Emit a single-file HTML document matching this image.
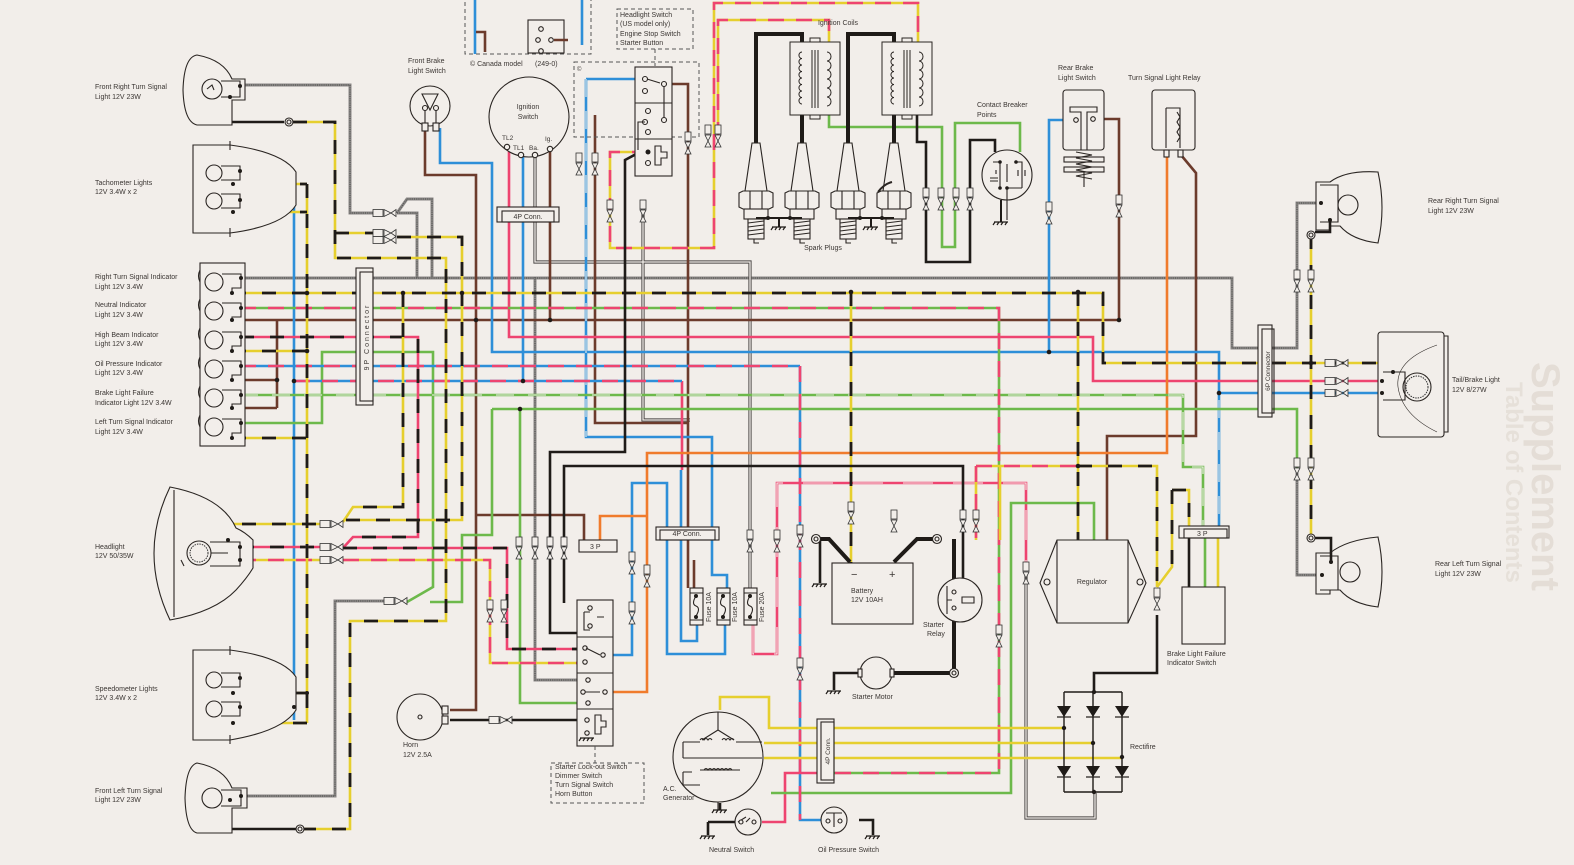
<!DOCTYPE html>
<html><head><meta charset="utf-8">
<style>
html,body{margin:0;padding:0;background:#f2eeea;}
svg{display:block}
text{font-family:"Liberation Sans",sans-serif;font-size:7px;fill:#3b3633}
.w{fill:none;stroke-width:2.6;stroke-linejoin:miter}
.Y{stroke:#e6cf2e}.K{stroke:#1f1b18}.R{stroke:#ee4470}.G{stroke:#6db94b}.B{stroke:#2e8fd8}.N{stroke:#6c3b2c}.O{stroke:#f07b2c}
.GR{stroke:#8a8785;stroke-width:3}
.GRd{stroke:#555;stroke-width:1.2;stroke-dasharray:1 1.2}
.kd{stroke:#1f1b18;stroke-width:2.8;stroke-dasharray:14 16}
.rd{stroke:#ee4470;stroke-dasharray:16 12}
.wd{stroke:#f4f1ec;stroke-width:1.1;stroke-dasharray:18 14}
.DB{stroke:#4a4644;stroke-width:3.2}
.DBi{stroke:#f2eeea;stroke-width:1.3}
.TK{fill:none;stroke:#1f1b18;stroke-width:4;stroke-linejoin:miter}
.ol{fill:none;stroke:#2a2522;stroke-width:1.1}
.ob{fill:#f2eeea;stroke:#2a2522;stroke-width:1.1}
.ds{fill:none;stroke:#555;stroke-width:1;stroke-dasharray:4 3}
.dot{fill:#1f1b18}
</style></head><body>
<svg width="1574" height="865" viewBox="0 0 1574 865" xmlns="http://www.w3.org/2000/svg">
<defs>
<g id="cv"><rect x="-3" y="-10" width="6" height="9" fill="#f2eeea" stroke="#333" stroke-width="0.8"/><path d="M-3,0 L3,0 L0,6 Z M-3,12 L3,12 L0,6 Z" fill="#f2eeea" stroke="#333" stroke-width="0.8"/></g>
<g id="ch"><rect x="-11" y="-3.5" width="10" height="7" fill="#f2eeea" stroke="#333" stroke-width="0.8"/><path d="M0,-3.5 L0,3.5 L7,0 Z M12,-3.5 L12,3.5 L7,0 Z" fill="#f2eeea" stroke="#333" stroke-width="0.8"/></g>
<g id="plug" fill="#f2eeea" stroke="#2a2522" stroke-width="1.1">
<path d="M-4,0 L4,0 L11,48 L-11,48Z"/>
<path d="M-17,50 L-13,48 L13,48 L17,50 L17,64 L13,66 L-13,66 L-17,64Z"/>
<path d="M-6,48 V66 M6,48 V66" fill="none"/>
<rect x="-12" y="66" width="24" height="10"/>
<rect x="-8" y="76" width="16" height="20"/>
<path d="M-8,80 l16,-2 M-8,84 l16,-2 M-8,88 l16,-2 M-8,92 l16,-2 M-2,96 v4 h5" fill="none"/>
</g>
<g id="coil" fill="none" stroke="#2a2522" stroke-width="1">
<rect x="0" y="0" width="50" height="73" fill="#f2eeea"/>
<rect x="20" y="-4" width="10" height="4" fill="#f2eeea"/>
<rect x="20" y="73" width="10" height="4" fill="#f2eeea"/>
<path d="M12,10 a3,3.2 0 1 0 0,6.5 a3,3.2 0 1 0 0,6.5 a3,3.2 0 1 0 0,6.5 a3,3.2 0 1 0 0,6.5 a3,3.2 0 1 0 0,6.5 a3,3.2 0 1 0 0,6.5 a3,3.2 0 1 0 0,6.5 a3,3.2 0 1 0 0,6.5"/>
<path d="M37,10 a4,4.5 0 1 1 0,9 a4,4.5 0 1 1 0,9 a4,4.5 0 1 1 0,9 a4,4.5 0 1 1 0,9 a4,4.5 0 1 1 0,9 a4,4.5 0 1 1 0,9"/>
<path d="M22,8 V66 M25,8 V66 M28,8 V66"/>
</g>
<g id="gnd" stroke="#1f1b18" stroke-width="1.2" fill="none"><path d="M-7,0 H7 M-6,0 l-2,3 M-2,0 l-2,3 M2,0 l-2,3 M6,0 l-2,3"/></g>
<g id="dio"><path d="M-7,-6 L7,-6 L0,5 Z" fill="#1f1b18"/><path d="M-7,5 H7" stroke="#1f1b18" stroke-width="1.2"/></g>
</defs>

<rect width="1574" height="865" fill="#f2eeea"/>

<!-- faint bleed-through -->
<text transform="translate(1532,362) rotate(90)" style="font-size:40px;fill:#e4ddd6;font-weight:bold">Supplement</text>
<text transform="translate(1506,382) rotate(90)" style="font-size:24px;fill:#e6e0d9;font-weight:bold">Table of Contents</text>

<!-- ================= WIRES ================= -->
<g class="w">
<path class="GR" d="M240,85 H350 V213 H373 M397,213 L407,199 H432 V278 M397,213 H417 V278 M240,278 H1232 V348 H1297 V203 H1321 M245,796 H335 V601 H384 M535,277 V680 H587 M1297,472 V575 H1322"/>
<path class="GRd" d="M240,85 H350 V213 H373 M397,213 L407,199 H432 V278 M397,213 H417 V278 M240,278 H1232 V348 H1297 V203 H1321 M245,796 H335 V601 H384 M535,277 V680 H587 M1297,472 V575 H1322"/>
</g>

<g class="w">
<path class="DB" d="M535,155 V262 H750 V588 M643,207 V420 H690 M1026,572 V818 H1095 V793"/>
<path class="DBi" d="M535,155 V262 H750 V588 M643,207 V420 H690 M1026,572 V818 H1095 V793"/>
</g>

<path class="w N" d="M240,320 H1119 V119 H1093 M232,380 H277 M232,408 H277 M277,320 V408 M425,128 V175 H476 V710 H450 M550,150 V320 M664,84 H688 V588 M595,115 V423 H688 M475,515 H584 V540 M1181,155 L1196,173 V436 H1107 V540 M694,560 V588"/>

<path class="w B" d="M240,171 H294 M240,200 H294 M240,678 H294 M240,707 H294 M294,171 V720 M440,128 V163 H492 V352 H1219 V526 M1219,393 H1380 M1075,120 H1049 V352 M523,155 V381 M586,79 H645 M586,79 V437 H712 V575 H727 V588 M725,625 V654 H667 V483 H632 V655 H603 M681,470 V641 H697 V625 M475,0 V54 M582,0 V45 M800,366 V820 H821"/>
<path class="w wd" d="M586,79 V437 M1219,400 V520"/>

<path class="w R" d="M509,150 V337 H1093 V381 H1380 M817,773 H785 V822 H762 M682,381 V470"/>

<path class="w R" d="M753,625 V654 H777 V483 H1026 V568"/>
<path class="w wd" style="stroke-dasharray:30 20" d="M753,625 V654 H777 V483 H1026 V568"/>

<path class="w O" d="M1167,155 V453 H647 V692 H605 M600,540 V516 H647"/>

<path class="w G" d="M240,423 H322 V352 H433 V587 L407,602 M492,409 H1297 V470 M520,409 V703 H577 M492,409 V535 H462 V602 H430 M771,793 H1011 V503 H1094 V540 M829,115 V127 H942 V247 H955 V123 H1020 V152"/>

<path class="w G" d="M240,395 H1183 V467 H1203 V526 M1205,538 V587"/>
<path class="w wd" d="M240,395 H1183 V467 H1203 V526"/>

<path class="w G" d="M240,308 H999 V773 H834"/>
<path class="w rd" d="M240,308 H999 V773 H834"/>

<path class="w B" d="M240,366 H800 M294,381 H682"/>
<path class="w rd" d="M240,366 H800 V820 M294,381 H682"/>

<path class="w R" d="M240,337 H418 V537 H353 L343,548 M343,548 H507 V649 H577 M240,547 H320"/>
<path class="w kd" d="M240,337 H418 V537 H353 M343,548 H507 V649 H577 M240,547 H320"/>

<path class="w Y" d="M240,560 H320 M343,560 H490 V663 H577 M648,152 H610 V248 H714 V3 H918 V42 M718,138 V20 H829 V42 M976,466 H1078 M976,466 V540 M1000,466 V540"/>
<path class="w rd" d="M240,560 H320 M343,560 H490 V663 H577 M648,152 H610 V248 H714 V3 H918 V42 M718,138 V20 H829 V42 M976,466 H1078 M976,466 V540"/>

<path class="w Y" d="M720,710 V697 H769 V728 H1064 M764,743 H1093 M764,758 H1122 M1218,538 V587 M1380,363 H1393 V372"/>

<path class="w Y" d="M293,122 H335 V258 H446 V621 H350 V829 H304 M335,233 H373 M397,237 H462 V520 H343 M240,184 H307 M240,212 H307 M233,693 H307 M233,723 H307 M307,184 V723 M232,293 H1103 V363 H1380 M232,351 H307 M232,438 H307 M403,293 V507 H353 L343,522 M851,292 V563 M1078,292 V540 M1078,466 H1157 V587 M1172,490 H1189 V526 M1172,490 V567 L1157,587 M1311,235 V538 M228,540 V524 H320"/>
<path class="w kd" d="M293,122 H335 V258 H446 V621 H350 V829 H304 M335,233 H373 M397,237 H462 V520 H343 M240,184 H307 M240,212 H307 M233,693 H307 M233,723 H307 M307,184 V723 M232,293 H1103 V363 H1380 M232,351 H307 M232,438 H307 M403,293 V507 H353 M851,292 V563 M1078,292 V540 M1078,466 H1157 V587 M1172,490 H1189 V526 M1172,490 V567 M1311,235 V538 M228,540 V524 H320"/>

<path class="w K" d="M230,97 V122 H284 M230,800 V829 H296 M450,720 H577 M640,152 L625,160 V452 H550 V633 H577 M564,603 V466 H963 V578 M1094,692 V673 H1157 V615 M1189,587 V538 M917,115 V142 H926 V262 H970 V140 H995 V152 M535,40 V52 M547,38 H560"/>
<path class="TK" d="M756,143 V34 H802 V42 M802,115 V143 M848,143 V34 H894 V42 M894,115 V143"/>
<path class="TK" d="M820,539 H829 L850,562 M933,539 H917 L894,562 M954,539 V580 M954,607 V669 M950,673 H892"/>
<path class="w K" d="M820,539 V583 M860,673 H834 V690 M720,803 V810 M708,822 H735 M708,822 V835 M859,820 H873 V835"/>

<!-- ================ COMPONENTS ================= -->
<path class="ob" d="M197,55 Q184,57 183,90 Q184,122 197,125 L232,125 L232,100 L245,100 L245,79 L232,79 Q224,60 197,55Z"/>
<circle class="ol" cx="212" cy="89" r="10"/>
<path class="ol" d="M221,81 H240 V97 H221 M207,89 l5,-4 l2,5"/>
<circle class="dot" cx="240" cy="86" r="2"/><circle class="dot" cx="230" cy="97" r="2"/>
<circle class="ob" cx="289" cy="122" r="4"/><circle class="ol" cx="289" cy="122" r="2"/>

<path class="ob" d="M193,145 H230 Q283,152 296,172 V205 Q283,226 230,233 H193Z"/>
<path class="ol" d="M230,141 V150 M230,228 V237"/>
<circle class="ol" cx="214" cy="173" r="8"/><circle class="ol" cx="214" cy="201" r="8"/>
<path class="ol" d="M221,166 H240 V180 H221 M221,194 H240 V208 H221"/>
<circle class="dot" cx="240" cy="171" r="2"/><circle class="dot" cx="233" cy="184" r="2"/><circle class="dot" cx="240" cy="200" r="2"/><circle class="dot" cx="233" cy="212" r="2"/>

<rect class="ob" x="200" y="263" width="45" height="183"/>
<path class="ol" d="M200,270 q-3,6 0,12 M200,299 q-3,6 0,12 M200,328 q-3,6 0,12 M200,357 q-3,6 0,12 M200,386 q-3,6 0,12 M200,415 q-3,6 0,12"/>
<g class="ol">
<circle cx="214" cy="282" r="9"/><circle cx="214" cy="311" r="9"/><circle cx="214" cy="340" r="9"/><circle cx="214" cy="369" r="9"/><circle cx="214" cy="398" r="9"/><circle cx="214" cy="427" r="9"/>
<path d="M222,274 H241 V288 H232 V293 M222,303 H241 V317 H232 V320 M222,332 H241 V346 H232 V351 M222,361 H241 V375 H232 V380 M222,390 H241 V404 H232 V408 M222,419 H241 V433 H232 V438"/>
</g>
<g class="dot">
<circle cx="241" cy="278" r="2"/><circle cx="232" cy="293" r="2"/><circle cx="241" cy="308" r="2"/><circle cx="232" cy="320" r="2"/><circle cx="241" cy="337" r="2"/><circle cx="232" cy="351" r="2"/><circle cx="241" cy="366" r="2"/><circle cx="232" cy="380" r="2"/><circle cx="241" cy="395" r="2"/><circle cx="232" cy="408" r="2"/><circle cx="241" cy="423" r="2"/><circle cx="232" cy="438" r="2"/>
</g>

<rect class="ob" x="356" y="268" width="17" height="137"/>
<rect class="ol" x="360" y="272" width="13" height="129"/>
<text transform="translate(369,337) rotate(-90)" text-anchor="middle" style="font-size:7px;letter-spacing:2px">9P Connector</text>

<path class="ob" d="M170,487 Q138,553 170,620 Q215,612 236,590 Q247,578 253,568 V540 Q245,532 236,528 Q222,497 170,487Z"/>
<path class="ol" d="M174,490 V617 M181,560 l3,6"/>
<circle class="ol" cx="199" cy="553" r="12"/>
<circle cx="199" cy="553" r="9" fill="none" stroke="#333" stroke-width="1" stroke-dasharray="1.5 1"/>
<path class="ol" d="M210,542 H240 V566 H210 M211,553 H228"/>
<circle class="dot" cx="228" cy="540" r="2"/><circle class="dot" cx="240" cy="547" r="2"/><circle class="dot" cx="240" cy="560" r="2"/>

<path class="ob" d="M193,650 H230 Q283,657 296,677 V710 Q283,731 230,740 H193Z"/>
<path class="ol" d="M230,646 V655 M230,735 V744"/>
<circle class="ol" cx="214" cy="680" r="8"/><circle class="ol" cx="214" cy="709" r="8"/>
<path class="ol" d="M221,673 H240 V687 H221 M221,702 H240 V716 H221"/>
<circle class="dot" cx="240" cy="678" r="2"/><circle class="dot" cx="233" cy="693" r="2"/><circle class="dot" cx="240" cy="707" r="2"/><circle class="dot" cx="233" cy="723" r="2"/>
<circle class="dot" cx="294" cy="707" r="2"/><circle class="dot" cx="307" cy="693" r="2"/>

<path class="ob" d="M197,763 Q186,766 185,798 Q186,830 197,833 L232,833 L232,808 L247,808 L247,788 L232,788 Q224,768 197,763Z"/>
<circle class="ol" cx="212" cy="798" r="10"/>
<path class="ol" d="M221,790 H241 V806 H221"/>
<circle class="dot" cx="241" cy="796" r="2"/><circle class="dot" cx="230" cy="800" r="2"/>
<circle class="ob" cx="300" cy="829" r="4"/><circle class="ol" cx="300" cy="829" r="2"/>

<g class="dot">
<circle cx="307" cy="293" r="2.3"/><circle cx="403" cy="293" r="2.3"/><circle cx="462" cy="293" r="2.3"/><circle cx="851" cy="292" r="2.3"/><circle cx="1078" cy="292" r="2.3"/><circle cx="294" cy="381" r="2.3"/><circle cx="476" cy="320" r="2.3"/><circle cx="550" cy="320" r="2.3"/><circle cx="520" cy="409" r="2.3"/><circle cx="1049" cy="352" r="2.3"/><circle cx="1119" cy="320" r="2.3"/><circle cx="1078" cy="466" r="2.3"/><circle cx="1311" cy="363" r="2.3"/><circle cx="277" cy="380" r="2.3"/><circle cx="523" cy="381" r="2.3"/><circle cx="1219" cy="393" r="2.3"/><circle cx="307" cy="351" r="2.3"/>
</g>

<circle class="ob" cx="430" cy="106" r="20"/>
<path class="ol" d="M422,94 H438 L430,110Z"/>
<circle class="ob" cx="425" cy="108" r="2.5"/><circle class="ob" cx="436" cy="108" r="2.5"/>
<path class="ol" d="M425,110 V123 M436,110 V123"/>
<rect class="ob" x="422" y="123" width="6" height="8"/><rect class="ob" x="433" y="123" width="6" height="8"/>

<circle class="ob" cx="529" cy="117" r="40"/>
<g class="ob"><circle cx="507" cy="147" r="2.7"/><circle cx="521" cy="155" r="2.7"/><circle cx="535" cy="155" r="2.7"/><circle cx="550" cy="149" r="2.7"/></g>

<rect class="ob" x="497" y="207" width="62" height="15"/>
<rect class="ol" x="502" y="211" width="52" height="11"/>

<rect class="ds" x="465" y="-3" width="126" height="57"/>
<rect class="ob" x="528" y="20" width="36" height="33"/>
<circle class="ob" cx="541" cy="29" r="2.3"/><circle class="ob" cx="538" cy="40" r="2.3"/><circle class="ob" cx="551" cy="40" r="2.3"/><circle class="ob" cx="541" cy="51" r="2.3"/>
<path class="w N" d="M554,40 H568 M476,32 H485 V52"/>

<rect class="ds" x="617" y="9" width="76" height="40"/>
<path class="ds" d="M655,49 V66"/>
<rect class="ds" x="574" y="62" width="125" height="75"/>
<rect class="ob" x="635" y="67" width="37" height="109"/>
<path class="ol" d="M635,103 H672 M635,139 H672"/>
<g class="ob"><circle cx="645" cy="79" r="2.5"/><circle cx="664" cy="84" r="2.5"/><circle cx="645" cy="91" r="2.5"/><circle cx="648" cy="111" r="2.5"/><circle cx="645" cy="122" r="2.5"/><circle cx="664" cy="120" r="2.5"/><circle cx="648" cy="132" r="2.5"/><circle cx="648" cy="163" r="2.5"/></g>
<circle class="dot" cx="648" cy="152" r="2.5"/>
<path class="ol" d="M655,146 H661 V152 H667 V158 H661 V165 H655Z M647,79 L660,83 M664,86 V118 M645,122 H638 V150"/>

<use href="#coil" x="790" y="42"/>
<use href="#coil" x="882" y="42"/>

<use href="#plug" x="756" y="143"/>
<use href="#plug" x="802" y="143"/>
<use href="#plug" x="848" y="143"/>
<use href="#plug" x="894" y="143"/>
<path class="w K" style="stroke-width:2" d="M756,218 H802 M848,218 H894 M779,218 V227 M871,218 V227"/>
<use href="#gnd" x="779" y="227"/><use href="#gnd" x="871" y="227"/>
<circle class="dot" cx="768" cy="218" r="2"/><circle class="dot" cx="790" cy="218" r="2"/><circle class="dot" cx="860" cy="218" r="2"/><circle class="dot" cx="882" cy="218" r="2"/>
<path class="ol" d="M878,192 q6,-8 14,-10" style="stroke-width:2"/>

<circle class="ob" cx="1007" cy="175" r="25"/>
<path class="ol" d="M993,162 H1000 V188 M996,170 V174 M990,178 H998 M990,181 H998 M1007,164 V182 M1016,162 H1022 V188 M1018,170 V176 M1025,170 V176 M1006,188 H1022 M1007,188 V220"/>
<circle class="dot" cx="1000" cy="162" r="1.8"/><circle class="dot" cx="1016" cy="162" r="1.8"/><circle class="dot" cx="1000" cy="188" r="1.8"/><circle class="dot" cx="1007" cy="188" r="1.8"/>
<path class="w K" style="stroke-width:2" d="M1001,200 V222"/>
<use href="#gnd" x="1001" y="222"/>

<rect class="ob" x="1063" y="90" width="41" height="60" rx="3"/>
<path class="ol" d="M1070,107 H1097 V112 H1087 V150 H1081 V112 H1070Z"/>
<circle class="ob" cx="1076" cy="120" r="2.3"/><circle class="ob" cx="1093" cy="119" r="2.3"/>
<rect class="ob" x="1064" y="157" width="40" height="5"/><rect class="ob" x="1064" y="167" width="40" height="5"/>
<path class="ol" d="M1076,152 l16,3 l-16,3 l16,3 l-16,3 l16,3 l-16,3 l16,3 l-16,3 l16,3 M1084,172 V187"/>

<rect class="ob" x="1152" y="90" width="43" height="60" rx="3"/>
<path class="ol" d="M1166,108 H1180 V148 M1166,108 V148 M1177,112 l3,5 l-3,5 l3,5 l-3,5 l3,5 l-3,5"/>
<rect class="ob" x="1164" y="150" width="5" height="7"/><rect class="ob" x="1178" y="150" width="5" height="7"/>

<path class="ob" d="M1378,172 Q1386,208 1378,243 Q1352,240 1340,226 L1330,226 L1330,230 L1316,230 L1316,182 L1330,182 Q1346,170 1378,172Z"/>
<circle class="ol" cx="1348" cy="205" r="10"/>
<path class="ol" d="M1320,185 H1338 V222 H1320"/>
<circle class="dot" cx="1321" cy="203" r="2"/><circle class="dot" cx="1330" cy="220" r="2"/>
<path class="w K" d="M1330,220 V232 H1315"/>
<circle class="ob" cx="1311" cy="235" r="4"/><circle class="ol" cx="1311" cy="235" r="2"/>

<rect class="ob" x="1258" y="325" width="14" height="92"/>
<rect class="ol" x="1262" y="329" width="12" height="84"/>
<text transform="translate(1270,371) rotate(-90)" text-anchor="middle" style="font-size:6.5px">6P Connector</text>

<rect class="ob" x="1378" y="332" width="66" height="105" rx="3"/>
<path class="ol" d="M1444,336 H1448 V432 H1444"/>
<path class="ol" d="M1437,345 Q1395,360 1398,387 Q1402,415 1437,432" style="stroke-width:0.6"/>
<circle class="ol" cx="1417" cy="387" r="14"/>
<circle cx="1417" cy="387" r="11" fill="none" stroke="#333" stroke-width="1" stroke-dasharray="1.5 1"/>
<path class="ol" d="M1383,372 H1405 V400 H1383"/>
<circle class="dot" cx="1393" cy="372" r="2"/><circle class="dot" cx="1382" cy="381" r="2"/><circle class="dot" cx="1382" cy="393" r="2"/>

<path class="ob" d="M1378,537 Q1386,572 1378,607 Q1352,604 1340,590 L1330,590 L1330,594 L1316,594 L1316,553 L1330,553 Q1346,540 1378,537Z"/>
<circle class="ol" cx="1350" cy="572" r="10"/>
<path class="ol" d="M1320,556 H1338 V590 H1320"/>
<circle class="dot" cx="1322" cy="575" r="2"/><circle class="dot" cx="1331" cy="562" r="2"/>
<path class="w K" d="M1331,562 V538 H1315"/>
<circle class="ob" cx="1311" cy="538" r="4"/><circle class="ol" cx="1311" cy="538" r="2"/>

<path class="ob" d="M1040,583 L1057,540 L1128,540 L1146,583 L1128,623 L1057,623Z"/>
<path class="ol" d="M1057,540 V623 M1128,540 V623"/>
<circle class="ob" cx="1047" cy="582" r="3"/><circle class="ob" cx="1140" cy="582" r="3"/>

<rect class="ob" x="1179" y="526" width="50" height="12"/>
<rect class="ol" x="1184" y="529" width="43" height="9"/>
<rect class="ob" x="1182" y="587" width="43" height="57"/>

<path class="w K" style="stroke-width:1.4" d="M1064,692 H1122 M1064,792 H1122 M1064,692 V792 M1093,692 V792 M1122,692 V792"/>
<use href="#dio" x="1064" y="712"/><use href="#dio" x="1093" y="712"/><use href="#dio" x="1122" y="712"/>
<use href="#dio" x="1064" y="772"/><use href="#dio" x="1093" y="772"/><use href="#dio" x="1122" y="772"/>
<g class="dot"><circle cx="1094" cy="692" r="2.2"/><circle cx="1094" cy="792" r="2.2"/><circle cx="1064" cy="728" r="2.2"/><circle cx="1093" cy="743" r="2.2"/><circle cx="1122" cy="757" r="2.2"/></g>

<rect class="ob" x="832" y="563" width="81" height="61"/>
<circle class="ob" cx="816" cy="539" r="4.5"/><circle class="ol" cx="816" cy="539" r="2"/>
<circle class="ob" cx="937" cy="539" r="4.5"/><circle class="ol" cx="937" cy="539" r="2"/>
<use href="#gnd" x="820" y="584"/>

<circle class="ob" cx="960" cy="600" r="22"/>
<path class="ol" d="M947,586 V614 M947,600 H952 M962,597 h12 v6 h-12Z"/>
<circle class="ob" cx="954" cy="592" r="2"/><circle class="ob" cx="954" cy="608" r="2"/>
<circle class="ob" cx="954" cy="673" r="4.5"/><circle class="ol" cx="954" cy="673" r="2"/>
<circle class="ob" cx="876" cy="673" r="16"/>
<rect class="ob" x="858" y="669" width="4" height="8"/><rect class="ob" x="890" y="669" width="4" height="8"/>
<use href="#gnd" x="834" y="691"/>

<circle class="ob" cx="718" cy="757" r="45"/>
<path class="ol" d="M718,712 V730 M718,730 L702,740 M718,730 L734,740 M683,742 H700 M736,742 H762 M683,742 V758 M683,758 H762 M683,772 V785 H700 M683,772 H692 M700,770 H740 M718,802 V810"/>
<path class="ol" d="M700,740 q2,-3 4,0 q2,-3 4,0 q2,-3 4,0 M722,740 q2,-3 4,0 q2,-3 4,0 q2,-3 4,0 M704,770 q2,-3 4,0 q2,-3 4,0 q2,-3 4,0 q2,-3 4,0 q2,-3 4,0 q2,-3 4,0 q2,-3 4,0"/>
<use href="#gnd" x="720" y="810"/>

<circle class="ob" cx="748" cy="822" r="13"/>
<path class="ol" d="M738,822 l8,-5 M746,822 l4,-4"/><circle class="ob" cx="741" cy="822" r="2"/><circle class="ob" cx="754" cy="822" r="2"/>
<use href="#gnd" x="708" y="836"/>
<circle class="ob" cx="834" cy="820" r="13"/>
<path class="ol" d="M826,813 H842 M834,813 V827"/><circle class="ob" cx="828" cy="821" r="2"/><circle class="ob" cx="840" cy="821" r="2"/>
<use href="#gnd" x="873" y="836"/>

<rect class="ob" x="817" y="719" width="17" height="64"/>
<rect class="ol" x="821" y="722" width="13" height="58"/>
<text transform="translate(830,751) rotate(-90)" text-anchor="middle" style="font-size:6.5px">4P Conn.</text>

<rect class="ob" x="579" y="540" width="38" height="12"/>
<rect class="ob" x="656" y="527" width="63" height="13"/>
<rect class="ol" x="660" y="530" width="55" height="10"/>

<g>
<rect class="ob" x="690" y="588" width="13" height="37"/>
<rect class="ob" x="717" y="588" width="13" height="37"/>
<rect class="ob" x="744" y="588" width="13" height="37"/>
<path class="ol" d="M690,593 H703 M690,620 H703 M717,593 H730 M717,620 H730 M744,593 H757 M744,620 H757 M696,596 q-5,8 0,10 q5,2 0,10 M723,596 q-5,8 0,10 q5,2 0,10 M750,596 q-5,8 0,10 q5,2 0,10"/>
<g class="dot"><circle cx="696" cy="596" r="2"/><circle cx="696" cy="617" r="2"/><circle cx="723" cy="596" r="2"/><circle cx="723" cy="617" r="2"/><circle cx="750" cy="596" r="2"/><circle cx="750" cy="617" r="2"/></g>
</g>

<rect class="ob" x="577" y="600" width="36" height="146"/>
<path class="ol" d="M577,637 H613 M577,673 H613 M577,709 H613 M584,612 V630 H590 M584,612 H590 M597,617 H604"/>
<g class="ob"><circle cx="590" cy="608" r="2.2"/><circle cx="590" cy="626" r="2.2"/><circle cx="585" cy="648" r="2.2"/><circle cx="603" cy="655" r="2.2"/><circle cx="585" cy="662" r="2.2"/><circle cx="588" cy="680" r="2.2"/><circle cx="583" cy="692" r="2.2"/><circle cx="605" cy="692" r="2.2"/><circle cx="588" cy="703" r="2.2"/><circle cx="587" cy="720" r="2.2"/><circle cx="587" cy="733" r="2.2"/></g>
<path class="ol" d="M586,648 L600,655 M585,692 L600,692 M595,715 H601 V721 H606 V727 H601 V734 H595Z"/>
<use href="#gnd" x="587" y="738"/>
<rect class="ds" x="551" y="763" width="93" height="40"/>
<path class="ds" d="M595,746 V763"/>

<circle class="ob" cx="420" cy="717" r="23"/>
<circle class="ol" cx="420" cy="717" r="2"/>
<rect class="ob" x="442" y="706" width="6" height="8"/><rect class="ob" x="442" y="716" width="6" height="8"/>

<g>
<use href="#cv" x="579" y="163"/><use href="#cv" x="595" y="163"/><use href="#cv" x="610" y="210"/><use href="#cv" x="643" y="210"/>
<use href="#cv" x="688" y="142"/><use href="#cv" x="708" y="135"/><use href="#cv" x="718" y="135"/>
<use href="#cv" x="926" y="198"/><use href="#cv" x="941" y="198"/><use href="#cv" x="956" y="198"/><use href="#cv" x="970" y="198"/>
<use href="#cv" x="1049" y="212"/><use href="#cv" x="1119" y="205"/>
<use href="#cv" x="1297" y="280"/><use href="#cv" x="1311" y="280"/><use href="#cv" x="1297" y="468"/><use href="#cv" x="1311" y="468"/>
<use href="#cv" x="519" y="547"/><use href="#cv" x="535" y="547"/><use href="#cv" x="550" y="547"/><use href="#cv" x="564" y="547"/>
<use href="#cv" x="490" y="610"/><use href="#cv" x="504" y="610"/>
<use href="#cv" x="632" y="562"/><use href="#cv" x="647" y="575"/><use href="#cv" x="632" y="612"/>
<use href="#cv" x="750" y="540"/><use href="#cv" x="777" y="540"/><use href="#cv" x="800" y="535"/><use href="#cv" x="800" y="668"/>
<use href="#cv" x="851" y="512"/><use href="#cv" x="894" y="520"/><use href="#cv" x="963" y="520"/><use href="#cv" x="976" y="520"/>
<use href="#cv" x="999" y="635"/><use href="#cv" x="1026" y="572"/><use href="#cv" x="1157" y="598"/>
<use href="#ch" x="384" y="213"/><use href="#ch" x="384" y="233"/><use href="#ch" x="384" y="240"/>
<use href="#ch" x="331" y="524"/><use href="#ch" x="331" y="547"/><use href="#ch" x="331" y="560"/>
<use href="#ch" x="395" y="601"/><use href="#ch" x="500" y="720"/>
<use href="#ch" x="1336" y="363"/><use href="#ch" x="1336" y="381"/><use href="#ch" x="1336" y="393"/>
</g>

<!-- ================ TEXT ================= -->
<text x="95" y="89">Front Right Turn Signal</text><text x="95" y="99">Light 12V 23W</text>
<text x="95" y="185">Tachometer Lights</text><text x="95" y="194">12V 3.4W x 2</text>
<text x="95" y="279">Right Turn Signal Indicator</text><text x="95" y="289">Light 12V 3.4W</text>
<text x="95" y="307">Neutral Indicator</text><text x="95" y="317">Light 12V 3.4W</text>
<text x="95" y="337">High Beam Indicator</text><text x="95" y="346">Light 12V 3.4W</text>
<text x="95" y="366">Oil Pressure Indicator</text><text x="95" y="375">Light 12V 3.4W</text>
<text x="95" y="395">Brake Light Failure</text><text x="95" y="405">Indicator Light 12V 3.4W</text>
<text x="95" y="424">Left Turn Signal Indicator</text><text x="95" y="434">Light 12V 3.4W</text>
<text x="95" y="549">Headlight</text><text x="95" y="558">12V 50/35W</text>
<text x="95" y="691">Speedometer Lights</text><text x="95" y="700">12V 3.4W x 2</text>
<text x="95" y="793">Front Left Turn Signal</text><text x="95" y="802">Light 12V 23W</text>

<text x="408" y="63">Front Brake</text><text x="408" y="73">Light Switch</text>
<text x="470" y="66">© Canada model</text><text x="535" y="66">(249-0)</text>
<text x="528" y="109" text-anchor="middle">Ignition</text><text x="528" y="119" text-anchor="middle">Switch</text>
<text x="502" y="140" style="font-size:6.5px">TL2</text><text x="513" y="150" style="font-size:6.5px">TL1</text><text x="529" y="150" style="font-size:6.5px">Ba.</text><text x="545" y="141" style="font-size:6.5px">Ig.</text>
<text x="528" y="219" text-anchor="middle">4P Conn.</text>
<text x="620" y="17">Headlight Switch</text><text x="620" y="26">(US model only)</text><text x="620" y="36">Engine Stop Switch</text><text x="620" y="45">Starter Button</text>
<text x="577" y="71" style="font-size:6px">©</text>
<text x="838" y="25" text-anchor="middle">Ignition Coils</text>
<text x="823" y="250" text-anchor="middle">Spark Plugs</text>
<text x="977" y="107">Contact Breaker</text><text x="977" y="117">Points</text>
<text x="1058" y="70">Rear Brake</text><text x="1058" y="80">Light Switch</text>
<text x="1128" y="80">Turn Signal Light Relay</text>
<text x="1428" y="203">Rear Right Turn Signal</text><text x="1428" y="213">Light 12V 23W</text>
<text x="1452" y="382">Tail/Brake Light</text><text x="1452" y="392">12V 8/27W</text>
<text x="1435" y="566">Rear Left Turn Signal</text><text x="1435" y="576">Light 12V 23W</text>
<text x="1092" y="584" text-anchor="middle">Regulator</text>
<text x="1130" y="749">Rectifire</text>
<text x="1167" y="656">Brake Light Failure</text><text x="1167" y="665">Indicator Switch</text>
<text x="1197" y="536">3  P</text>
<text x="590" y="549">3  P</text>
<text x="687" y="536" text-anchor="middle">4P Conn.</text>
<text transform="translate(711,622) rotate(-90)">Fuse 10A</text>
<text transform="translate(737,622) rotate(-90)">Fuse 10A</text>
<text transform="translate(764,622) rotate(-90)">Fuse 20A</text>
<text x="851" y="578" style="font-size:11px">−</text><text x="889" y="578" style="font-size:11px">+</text>
<text x="851" y="593">Battery</text><text x="851" y="602">12V 10AH</text>
<text x="923" y="627">Starter</text><text x="927" y="636">Relay</text>
<text x="852" y="699">Starter Motor</text>
<text x="663" y="791">A.C.</text><text x="663" y="800">Generator</text>
<text x="709" y="852">Neutral Switch</text>
<text x="818" y="852">Oil Pressure Switch</text>
<text x="403" y="747">Horn</text><text x="403" y="757">12V 2.5A</text>
<text x="555" y="769">Starter Lock-out Switch</text><text x="555" y="778">Dimmer Switch</text><text x="555" y="787">Turn Signal Switch</text><text x="555" y="796">Horn Button</text>
</svg>
</body></html>
